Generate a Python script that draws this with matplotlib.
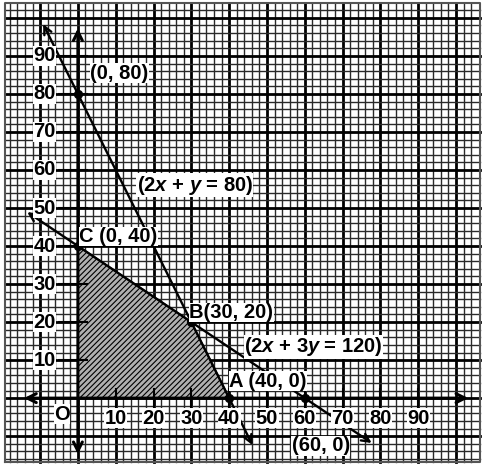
import matplotlib
matplotlib.use("Agg")
import matplotlib.pyplot as plt
import numpy as np

# feasible region vertices O, A, B, C
region_x = [0, 40, 30, 0]
region_y = [0, 0, 20, 40]

# marked points
pt_x = [0, 0, 30, 40, 60]
pt_y = [80, 40, 20, 0, 0]

# constraint lines: a*x + b*y = c, drawn between two x values
line_a = [2, 2]
line_b = [1, 3]
line_c = [80, 120]
line_xrange = [(-9.5, 46.5), (-14, 78.3)]

xtick_vals = [10, 20, 30, 40, 50, 60, 70, 80, 90]
ytick_vals = [10, 20, 30, 40, 50, 60, 70, 80, 90]

plt.rcParams['font.family'] = ['Liberation Sans', 'DejaVu Sans']
plt.rcParams['mathtext.fontset'] = 'custom'
plt.rcParams['mathtext.it'] = 'Liberation Sans:italic:bold'
plt.rcParams['mathtext.rm'] = 'Liberation Sans:bold'
plt.rcParams['hatch.linewidth'] = 0.8

fig = plt.figure(figsize=(4.84, 4.70), dpi=100)
ax = fig.add_axes([0, 0, 1, 1])
ax.set_xlim(-20.6, 107.4)
ax.set_ylim(-18.9, 104.7)
ax.axis('off')

# graph paper
gx0, gx1 = -19.3, 106.3
gy0, gy1 = -16.8, 103.9
for v in np.arange(-18, 106, 2):
    major = (v % 10 == 0)
    ax.plot([v, v], [gy0, gy1], color='black' if major else '#2a2a2a',
            lw=2.0 if major else 1.0, zorder=1)
for v in np.arange(-16, 104, 2):
    major = (v % 10 == 0)
    ax.plot([gx0, gx1], [v, v], color='black' if major else '#2a2a2a',
            lw=2.0 if major else 1.0, zorder=1)
ax.plot([gx0, gx1, gx1, gx0, gx0], [gy0, gy0, gy1, gy1, gy0],
        color='#555555', lw=1.5, zorder=1)

# shaded feasible region
ax.fill(region_x, region_y, facecolor='#b0b0b0', edgecolor='black',
        hatch='//////', lw=1.2, zorder=3)

# axes with arrows
arrow = dict(arrowstyle='<->', color='black', lw=2.2, mutation_scale=16)
ax.annotate('', xy=(104, 0), xytext=(-15, 0), arrowprops=arrow, zorder=4)
ax.annotate('', xy=(0, 98), xytext=(0, -15.5), arrowprops=arrow, zorder=4)

# constraint lines
for a, b, c, (xa, xb) in zip(line_a, line_b, line_c, line_xrange):
    ya = (c - a * xa) / b
    yb = (c - a * xb) / b
    ax.annotate('', xy=(xa, ya), xytext=(xb, yb),
                arrowprops=dict(arrowstyle='<->', color='black', lw=1.7,
                                mutation_scale=14), zorder=4)

ax.scatter(pt_x, pt_y, s=32, color='black', zorder=6)

box = dict(facecolor='white', edgecolor='none', pad=0.3)
tkw = dict(fontsize=14.5, fontweight='bold', zorder=7, bbox=box)

# ticks and tick labels
for v in xtick_vals:
    ax.plot([v, v], [-2.5, 2.5], color='black', lw=1.5, zorder=4)
    ax.text(v, -5.3, str(v), ha='center', va='center', **tkw)
for v in ytick_vals:
    ax.plot([-5, 2.5], [v, v], color='black', lw=1.5, zorder=4)
    ax.text(-8.8, v, str(v), ha='center', va='center', **tkw)
ax.text(-4.2, -4.2, 'O', ha='center', va='center', **tkw)

# point / line labels
ax.text(3.2, 85.5, '(0, 80)', ha='left', va='center', **tkw)
ax.text(15.5, 56, '(2$x$ + $y$ = 80)', ha='left', va='center', **tkw)
ax.text(0.3, 42.5, 'C (0, 40)', ha='left', va='center', **tkw)
ax.text(29.5, 22.5, 'B(30, 20)', ha='left', va='center', **tkw)
ax.text(44, 13.5, '(2$x$ + 3$y$ = 120)', ha='left', va='center', **tkw)
ax.text(40, 4.5, 'A (40, 0)', ha='left', va='center', **tkw)
ax.text(56.5, -12.5, '(60, 0)', ha='left', va='center', **tkw)

fig.savefig('out.png', dpi=100)
